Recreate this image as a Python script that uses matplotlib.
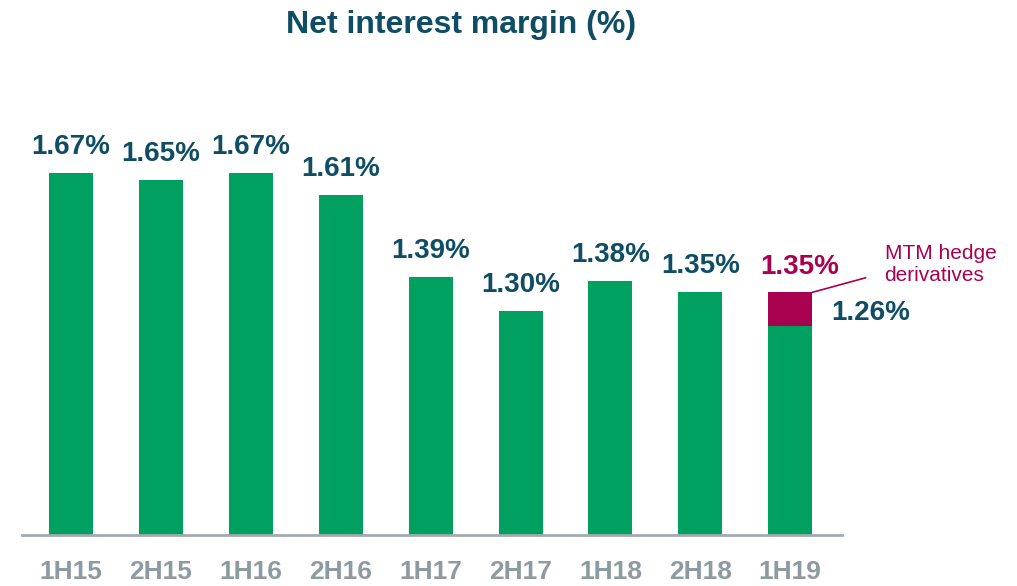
"""Net interest margin by half-year, with MTM hedge effect on 1H19."""

import matplotlib
matplotlib.use("Agg")
import matplotlib.pyplot as plt

periods = ["1H15", "2H15", "1H16", "2H16", "1H17", "2H17", "1H18", "2H18", "1H19"]
nim = [1.67, 1.65, 1.67, 1.61, 1.39, 1.30, 1.38, 1.35, 1.26]
mtm_hedge = [0, 0, 0, 0, 0, 0, 0, 0, 0.09]
reported_last = 1.35

GREEN = "#00A060"
MAGENTA = "#AA0050"
TEAL = "#0E4D64"
GREY = "#8C9BA2"
AXIS_GREY = "#A3ABAF"

plt.rcParams["font.family"] = ["Liberation Sans", "DejaVu Sans"]

fig = plt.figure(figsize=(10.17, 5.86), dpi=100)
ax = fig.add_axes([0.0216, 0.087, 0.8064, 0.743])

x = list(range(len(periods)))
width = 0.49
ax.bar(x, nim, width=width, color=GREEN, zorder=2)
ax.bar(x, mtm_hedge, width=width, bottom=nim, color=MAGENTA, zorder=2)

ax.set_xlim(-0.545, 8.576)
ax.set_ylim(0.70, 0.70 + 435 / 373)

for spine in ["top", "left", "right"]:
    ax.spines[spine].set_visible(False)
ax.spines["bottom"].set_color(AXIS_GREY)
ax.spines["bottom"].set_linewidth(2)
ax.set_yticks([])
ax.set_xticks(x)
ax.set_xticklabels(periods, fontsize=19, fontweight="bold", color=GREY)
ax.tick_params(axis="x", length=0, pad=18)

# data labels above bars
for i, v in enumerate(nim[:-1]):
    ax.annotate(f"{v:.2f}%", xy=(i, v), xytext=(0, 18.7), textcoords="offset points",
                ha="center", va="center", fontsize=20, fontweight="bold", color=TEAL)

last = len(periods) - 1
ax.annotate(f"{reported_last:.2f}%", xy=(last, reported_last), xytext=(7, 18),
            textcoords="offset points", ha="center", va="center",
            fontsize=20, fontweight="bold", color=MAGENTA)
ax.annotate(f"{nim[last]:.2f}%", xy=(last, nim[last]), xytext=(57.6, 9.4),
            textcoords="offset points", ha="center", va="center",
            fontsize=20, fontweight="bold", color=TEAL, annotation_clip=False)

ax.annotate("MTM hedge\nderivatives", xy=(last + width / 2, reported_last), xytext=(52, 20),
            textcoords="offset points", ha="left", va="center", fontsize=15,
            color=MAGENTA, linespacing=1.15, annotation_clip=False,
            arrowprops=dict(arrowstyle="-", color=MAGENTA, lw=1.2,
                            relpos=(0, 0.3), shrinkA=12, shrinkB=0))

fig.text(0.453, 0.957, "Net interest margin (%)", ha="center", va="center",
         fontsize=23, fontweight="bold", color=TEAL)

fig.savefig("out.png", dpi=100)
